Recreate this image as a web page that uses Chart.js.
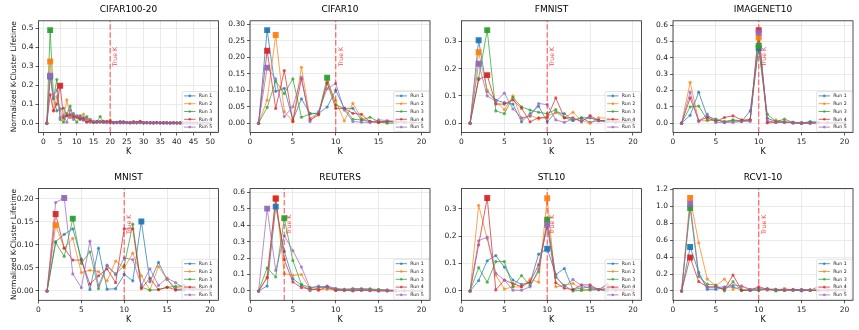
<!DOCTYPE html>
<html>
<head>
<meta charset="utf-8">
<script src="https://cdn.jsdelivr.net/npm/chart.js@4.4.1/dist/chart.umd.min.js"></script>
<style>
  body { margin: 0; background: #fff; width: 859px; height: 330px; position: relative; overflow: hidden; }
  canvas { position: absolute; }
</style>
</head>
<body>
<script>
// K values on the x axis
const K20 = [1, 2, 3, 4, 5, 6, 7, 8, 9, 10, 11, 12, 13, 14, 15, 16, 17, 18, 19, 20];
const K50 = [1, 2, 3, 4, 5, 6, 7, 8, 9, 10, 11, 12, 13, 14, 15, 16, 17, 18, 19, 20,
  21, 22, 23, 24, 25, 26, 27, 28, 29, 30, 31, 32, 33, 34, 35, 36, 37, 38, 39, 40,
  41, 42, 43, 44, 45, 46, 47, 48, 49, 50];

const RUN_LABELS = ["Run 1", "Run 2", "Run 3", "Run 4", "Run 5"];
const TITLES = ["CIFAR100-20", "CIFAR10", "FMNIST", "IMAGENET10", "MNIST", "REUTERS", "STL10", "RCV1-10"];
const TRUE_K = [20, 10, 10, 10, 10, 4, 10, 10];
const Y_STEPS = [0.1, 0.05, 0.1, 0.1, 0.05, 0.1, 0.1, 0.2];

// normalized k-cluster lifetime, one row per run
const cifar100 = [
  [0, 0.245, 0.13, 0.065, 0.075, 0.08, 0.04, 0.03, 0.05, 0.03,
   0.02, 0.03, 0.01, 0.02, 0.005, 0.01, 0.01, 0.005, 0.01, 0.005,
   0.003, 0.005, 0.01, 0.005, 0.003, 0.005, 0.002, 0.005, 0.003, 0.002,
   0.004, 0.003, 0.002, 0.002, 0.003, 0.002, 0.001, 0.002, 0.003, 0.002,
   0.002, 0.001, 0.002, 0.002, 0.001, 0.002, 0.001, 0.001, 0.001, 0.001],
  [0, 0.325, 0.065, 0.14, 0.07, 0.02, 0.123, 0.03, 0.04, 0.03,
   0.02, 0.048, 0.01, 0.02, 0.01, 0.005, 0.01, 0.01, 0.005, 0.018,
   0.005, 0.003, 0.005, 0.003, 0.005, 0.004, 0.003, 0.005, 0.008, 0.003,
   0.002, 0.004, 0.002, 0.003, 0.002, 0.003, 0.002, 0.001, 0.002, 0.002,
   0.001, 0.002, 0.002, 0.001, 0.001, 0.002, 0.001, 0.001, 0.001, 0.001],
  [0, 0.49, 0.13, 0.23, 0.02, 0.005, 0.05, 0.09, 0.03, 0.005,
   0.04, 0.02, 0.035, 0.01, 0.005, 0.005, 0.035, 0.005, 0.01, 0.003,
   0.002, 0.005, 0.003, 0.008, 0.003, 0.002, 0.004, 0.002, 0.005, 0.002,
   0.003, 0.002, 0.002, 0.003, 0.001, 0.002, 0.002, 0.001, 0.002, 0.001,
   0.002, 0.001, 0.001, 0.002, 0.001, 0.001, 0.001, 0.001, 0.001, 0.001],
  [0, 0.15, 0.065, 0.1, 0.197, 0.03, 0.04, 0.045, 0.035, 0.035,
   0.025, 0.02, 0.005, 0.01, 0.005, 0.008, 0.005, 0.01, 0.005, 0.01,
   0.003, 0.005, 0.002, 0.005, 0.003, 0.002, 0.008, 0.003, 0.01, 0.002,
   0.003, 0.002, 0.002, 0.004, 0.002, 0.002, 0.003, 0.002, 0.002, 0.001,
   0.002, 0.002, 0.001, 0.001, 0.002, 0.001, 0.001, 0.001, 0.001, 0.001],
  [0, 0.25, 0.14, 0.175, 0.03, 0.04, 0.005, 0.07, 0.02, 0.04,
   0.035, 0.015, 0.025, 0.005, 0.01, 0.005, 0.008, 0.005, 0.003, 0.005,
   0.003, 0.002, 0.004, 0.002, 0.003, 0.002, 0.003, 0.002, 0.002, 0.003,
   0.002, 0.002, 0.001, 0.002, 0.002, 0.001, 0.002, 0.001, 0.002, 0.001,
   0.001, 0.002, 0.001, 0.001, 0.001, 0.001, 0.001, 0.001, 0.001, 0.001]
];

const cifar10 = [
  [0, 0.283, 0.097, 0.106, 0.01, 0.074, 0.03, 0.03, 0.049, 0.1, 0.045, 0.045, 0.01, 0.005, 0.003, 0.005, 0.004, 0.003, 0.002, 0.002],
  [0, 0.07, 0.268, 0.035, 0.005, 0.17, 0.015, 0.03, 0.12, 0.068, 0.007, 0.06, 0.015, 0.005, 0.002, 0.005, 0.003, 0.002, 0.003, 0.002],
  [0, 0.048, 0.128, 0.09, 0.135, 0.018, 0.028, 0.03, 0.138, 0.055, 0.045, 0.012, 0.01, 0.018, 0.005, 0.0, 0.0, 0.002, 0.001, 0.001],
  [0, 0.22, 0.045, 0.16, 0.005, 0.135, 0.01, 0.025, 0.124, 0.045, 0.045, 0.03, 0.027, 0.005, 0.003, 0.005, 0.006, 0.003, 0.002, 0.002],
  [0, 0.169, 0.135, 0.02, 0.05, 0.14, 0.005, 0.035, 0.105, 0.121, 0.04, 0.005, 0.003, 0.002, 0.01, 0.008, 0.005, 0.003, 0.002, 0.002]
];

const fmnist = [
  [0, 0.304, 0.116, 0.085, 0.075, 0.07, 0.005, 0.035, 0.062, 0.005, 0.04, 0.035, 0.01, 0.02, 0.003, 0.01, 0.01, 0.005, 0.004, 0.003],
  [0, 0.26, 0.12, 0.08, 0.05, 0.1, 0.015, 0.03, 0.015, 0.025, 0.04, 0.02, 0.04, 0.01, 0.0, 0.02, 0.018, 0.01, 0.008, 0.005],
  [0, 0.165, 0.341, 0.045, 0.035, 0.095, 0.06, 0.048, 0.04, 0.035, 0.05, 0.02, 0.01, 0.02, 0.02, 0.01, 0.01, 0.005, 0.004, 0.003],
  [0, 0.16, 0.176, 0.07, 0.07, 0.085, 0.055, 0.005, 0.02, 0.02, 0.093, 0.02, 0.02, 0.005, 0.028, 0.01, 0.005, 0.004, 0.003, 0.003],
  [0, 0.218, 0.1, 0.08, 0.11, 0.052, 0.02, 0.025, 0.072, 0.068, 0.012, 0.003, 0.015, 0.01, 0.02, 0.008, 0.005, 0.004, 0.003, 0.002]
];

const imagenet10 = [
  [0, 0.048, 0.19, 0.04, 0.025, 0.005, 0.015, 0.01, 0.075, 0.46, 0.03, 0.01, 0.01, 0.0, 0.0, 0.01, 0.005, 0.003, 0.002, 0.002],
  [0, 0.25, 0.015, 0.015, 0.02, 0.01, 0.015, 0.015, 0.02, 0.525, 0.005, 0.02, 0.01, 0.005, 0.005, 0.0, 0.0, 0.002, 0.002, 0.001],
  [0, 0.1, 0.105, 0.02, 0.02, 0.01, 0.02, 0.015, 0.02, 0.475, 0.055, 0.01, 0.025, 0.005, 0.0, 0.005, 0.005, 0.003, 0.002, 0.002],
  [0, 0.155, 0.015, 0.035, 0.01, 0.035, 0.045, 0.02, 0.02, 0.57, 0.002, 0.005, 0.005, 0.005, 0.0, 0.0, 0.003, 0.002, 0.002, 0.001],
  [0, 0.19, 0.01, 0.055, 0.005, 0.005, 0.005, 0.01, 0.01, 0.555, 0.015, 0.005, 0.005, 0.003, 0.002, 0.0, 0.005, 0.003, 0.002, 0.002]
];

const mnist = [
  [0, 0.107, 0.123, 0.135, 0.07, 0.003, 0.093, 0.004, 0.005, 0.036, 0.022, 0.151, 0.02, 0.062, 0.025, 0.002, 0.002, 0.003, 0.002, 0.002],
  [0, 0.143, 0.093, 0.114, 0.04, 0.045, 0.042, 0.022, 0.065, 0.05, 0.082, 0.033, 0.002, 0.053, 0.025, 0.007, 0.01, 0.005, 0.004, 0.003],
  [0, 0.105, 0.075, 0.157, 0.06, 0.085, 0.005, 0.055, 0.037, 0.055, 0.145, 0.008, 0.002, 0.003, 0.008, 0.01, 0.012, 0.006, 0.004, 0.003],
  [0, 0.167, 0.093, 0.067, 0.067, 0.015, 0.033, 0.048, 0.018, 0.135, 0.135, 0.005, 0.028, 0.003, 0.008, 0.003, 0.005, 0.003, 0.002, 0.002],
  [0, 0.192, 0.202, 0.037, 0.007, 0.108, 0.012, 0.056, 0.035, 0.072, 0.068, 0.012, 0.048, 0.012, 0.028, 0.018, 0.005, 0.004, 0.003, 0.002]
];

const reuters = [
  [0, 0.03, 0.512, 0.24, 0.075, 0.035, 0.002, 0.02, 0.03, 0.015, 0.005, 0.0, 0.005, 0.005, 0.002, 0.002, 0.0, 0.002, 0.001, 0.001],
  [0, 0.085, 0.565, 0.105, 0.095, 0.1, 0.01, 0.01, 0.01, 0.005, 0.005, 0.005, 0.01, 0.015, 0.005, 0.005, 0.0, 0.002, 0.001, 0.001],
  [0, 0.14, 0.085, 0.441, 0.185, 0.04, 0.02, 0.025, 0.02, 0.01, 0.01, 0.015, 0.015, 0.01, 0.01, 0.005, 0.003, 0.002, 0.002, 0.001],
  [0, 0.08, 0.559, 0.19, 0.055, 0.02, 0.015, 0.005, 0.025, 0.003, 0.005, 0.005, 0.005, 0.002, 0.0, 0.0, 0.0, 0.001, 0.001, 0.001],
  [0, 0.5, 0.125, 0.335, 0.245, 0.145, 0.02, 0.03, 0.02, 0.015, 0.01, 0.01, 0.01, 0.005, 0.005, 0.005, 0.005, 0.003, 0.002, 0.002]
];

const stl10 = [
  [0, 0.038, 0.11, 0.129, 0.087, 0.04, 0.024, 0.03, 0.134, 0.154, 0.06, 0.082, 0.005, 0.01, 0.015, 0.005, 0.01, 0.005, 0.004, 0.003],
  [0, 0.312, 0.19, 0.058, 0.007, 0.015, 0.015, 0.043, 0.032, 0.338, 0.015, 0.02, 0.028, 0.005, 0.003, 0.005, 0.02, 0.008, 0.005, 0.004],
  [0, 0.085, 0.032, 0.107, 0.107, 0.016, 0.056, 0.02, 0.07, 0.26, 0.05, 0.02, 0.0, 0.002, 0.005, 0.005, 0.0, 0.003, 0.002, 0.002],
  [0, 0.168, 0.339, 0.004, 0.04, 0.027, 0.016, 0.034, 0.095, 0.24, 0.03, 0.01, 0.005, 0.022, 0.022, 0.005, 0.005, 0.003, 0.003, 0.002],
  [0, 0.183, 0.196, 0.065, 0.04, 0.003, 0.003, 0.015, 0.08, 0.241, 0.055, 0.015, 0.042, 0.02, 0.01, 0.005, 0.025, 0.01, 0.005, 0.004]
];

const rcv1 = [
  [0, 0.518, 0.22, 0.02, 0.02, 0.04, 0.05, 0.01, 0.01, 0.01, 0.02, 0.01, 0.01, 0.01, 0.02, 0.01, 0.01, 0.01, 0.01, 0.01],
  [0, 1.098, 0.568, 0.14, 0.06, 0.14, 0.02, 0.05, 0.02, 0.02, 0.01, 0.01, 0.03, 0.01, 0.01, 0.01, 0.01, 0.01, 0.01, 0.01],
  [0, 0.98, 0.17, 0.08, 0.07, 0.0, 0.11, 0.01, 0.01, 0.01, 0.03, 0.0, 0.01, 0.01, 0.0, 0.01, 0.0, 0.01, 0.01, 0.01],
  [0, 0.396, 0.11, 0.05, 0.05, 0.02, 0.188, 0.01, 0.01, 0.05, 0.02, 0.02, 0.01, 0.02, 0.01, 0.01, 0.01, 0.01, 0.01, 0.01],
  [0, 1.03, 0.2, 0.04, 0.04, 0.05, 0.07, 0.06, 0.02, 0.03, 0.02, 0.02, 0.01, 0.01, 0.01, 0.01, 0.05, 0.02, 0.01, 0.01]
];

const ALL_RUNS = [cifar100, cifar10, fmnist, imagenet10, mnist, reuters, stl10, rcv1];
const K_VALUES = [K50, K20, K20, K20, K20, K20, K20, K20];

// tab10 colours
const RUN_COLORS = ["31,119,180", "255,127,14", "44,160,44", "214,39,40", "148,103,189"];

// layout of the 2x4 grid (plot areas in page pixels)
const PLOT_W = 180;
const PLOT_H = 111.7;
const COL_LEFT = [38.5, 250, 461.5, 673];
const ROW_TOP = [20.8, 188.6];
const TITLE_H = 9 * 1.2 + 5.4;
const X_H = 24.3;
const GRID = "#e6e6e6";

Chart.defaults.font.family = "'DejaVu Sans', sans-serif";

function framePlugin(trueK) {
  return {
    id: "frame",
    afterDatasetsDraw(chart) {
      const { ctx, chartArea: a, scales } = chart;
      // True K label next to the dashed line
      const x = scales.x.getPixelForValue(trueK) + 5.5;
      const y = scales.y.getPixelForValue(scales.y.min + 0.68 * (scales.y.max - scales.y.min));
      ctx.save();
      ctx.translate(x, y);
      ctx.rotate(-Math.PI / 2);
      ctx.font = "6.2px 'DejaVu Sans'";
      ctx.fillStyle = "rgba(255,0,0,0.75)";
      ctx.textAlign = "center";
      ctx.textBaseline = "middle";
      ctx.fillText("True K", 0, 0);
      ctx.restore();

      ctx.save();
      ctx.strokeStyle = "#222";
      ctx.lineWidth = 0.8;
      ctx.strokeRect(a.left, a.top, a.width, a.height);
      ctx.restore();
    },
  };
}

const legendPlugin = {
  id: "runLegend",
  afterDraw(chart) {
    const { ctx, chartArea: a } = chart;
    const w = 35.4, h = 40;
    const x0 = a.right - 1 - w, y0 = a.bottom - 1 - h;
    ctx.save();
    ctx.beginPath();
    ctx.roundRect(x0, y0, w, h, 1.5);
    ctx.fillStyle = "rgba(255,255,255,0.8)";
    ctx.fill();
    ctx.strokeStyle = "#d0d0d0";
    ctx.lineWidth = 0.6;
    ctx.stroke();
    RUN_LABELS.forEach((label, i) => {
      const y = y0 + 4.4 + i * 7.8;
      const c = RUN_COLORS[i];
      ctx.strokeStyle = `rgba(${c},0.75)`;
      ctx.lineWidth = 1;
      ctx.beginPath();
      ctx.moveTo(x0 + 2, y);
      ctx.lineTo(x0 + 13.4, y);
      ctx.stroke();
      ctx.fillStyle = `rgba(${c},0.75)`;
      ctx.beginPath();
      ctx.arc(x0 + 7.7, y, 1.3, 0, Math.PI * 2);
      ctx.fill();
      ctx.fillStyle = "#222";
      ctx.font = "4.7px 'DejaVu Sans'";
      ctx.textBaseline = "middle";
      ctx.fillText(label, x0 + 16.7, y);
    });
    ctx.restore();
  },
};

ALL_RUNS.forEach((runs, idx) => {
  const row = Math.floor(idx / 4);
  const col = idx % 4;
  const ks = K_VALUES[idx];

  const yw0 = col === 0 ? 38.5 : 30;
  const left = Math.floor(COL_LEFT[col] - yw0);
  const yW = COL_LEFT[col] - left;
  const top = Math.floor(ROW_TOP[row] - TITLE_H - 2);
  const padTop = ROW_TOP[row] - TITLE_H - top;
  const width = Math.ceil(yW + PLOT_W + 6);
  const padRight = width - yW - PLOT_W;
  const height = Math.ceil(padTop + TITLE_H + PLOT_H + X_H + 1);
  const padBottom = height - padTop - TITLE_H - PLOT_H - X_H;

  const canvas = document.createElement("canvas");
  canvas.width = width;
  canvas.height = height;
  canvas.style.left = left + "px";
  canvas.style.top = top + "px";
  document.body.appendChild(canvas);

  const yMaxData = Math.max(...runs.map((r) => Math.max(...r)));
  const yMin = -0.1 * yMaxData;
  const yMax = 1.1 * yMaxData;
  const xPad = 0.05 * ks.length;
  const xMin = ks[0] - xPad;
  const xMax = ks[ks.length - 1] + xPad;
  const step = Y_STEPS[idx];
  const decimals = step < 0.1 ? 2 : 1;

  const datasets = [];
  runs.forEach((vals, ri) => {
    const c = RUN_COLORS[ri];
    datasets.push({
      label: RUN_LABELS[ri],
      data: ks.map((k, i) => ({ x: k, y: vals[i] })),
      borderColor: `rgba(${c},0.72)`,
      backgroundColor: `rgba(${c},0.72)`,
      borderWidth: 1,
      pointRadius: 1.6,
      pointBorderWidth: 0,
      tension: 0,
      order: 20 - ri,
    });
  });
  datasets.push({
    label: "True K",
    data: [{ x: TRUE_K[idx], y: yMin }, { x: TRUE_K[idx], y: yMax }],
    borderColor: "rgba(255,0,0,0.5)",
    borderWidth: 1.4,
    borderDash: [5.5, 2.4],
    pointRadius: 0,
    order: 10,
  });
  runs.forEach((vals, ri) => {
    const c = RUN_COLORS[ri];
    const peak = vals.indexOf(Math.max(...vals));
    datasets.push({
      label: RUN_LABELS[ri] + " max",
      data: [{ x: ks[peak], y: vals[peak] }],
      showLine: false,
      pointStyle: "rect",
      pointRadius: 4.2,
      pointBorderWidth: 0,
      backgroundColor: `rgba(${c},0.92)`,
      borderColor: `rgba(${c},0.92)`,
      order: 5 - ri,
    });
  });

  new Chart(canvas, {
    type: "line",
    data: { datasets },
    options: {
      responsive: false,
      animation: false,
      events: [],
      layout: {
        autoPadding: false,
        padding: { left: 0, top: padTop, right: padRight, bottom: padBottom },
      },
      plugins: {
        legend: { display: false },
        tooltip: { enabled: false },
        title: {
          display: true,
          text: TITLES[idx],
          fullSize: false,
          color: "#000",
          font: { size: 9, weight: "normal" },
          padding: { top: 0, bottom: 5.4 },
        },
      },
      scales: {
        x: {
          type: "linear",
          min: xMin,
          max: xMax,
          afterFit: (s) => { s.height = X_H; },
          border: { display: false },
          grid: { color: GRID, lineWidth: 0.8, tickLength: 3, tickColor: "#333", tickWidth: 0.8 },
          ticks: {
            stepSize: 5,
            includeBounds: false,
            autoSkip: false,
            maxRotation: 0,
            color: "#222",
            padding: 1.8,
            font: { size: 7.5 },
          },
          title: { display: true, text: "K", color: "#111", font: { size: 8 }, padding: 0 },
        },
        y: {
          type: "linear",
          min: yMin,
          max: yMax,
          afterFit: (s) => { s.width = yW; },
          border: { display: false },
          grid: { color: GRID, lineWidth: 0.8, tickLength: 3, tickColor: "#333", tickWidth: 0.8 },
          ticks: {
            stepSize: step,
            includeBounds: false,
            color: "#222",
            padding: 2,
            font: { size: 7.5 },
            callback: (v) => Number(v).toFixed(decimals),
          },
          title: {
            display: col === 0,
            text: "Normalized K-Cluster Lifetime",
            color: "#111",
            font: { size: 7.5 },
            padding: { top: 9.5, bottom: 0 },
          },
        },
      },
    },
    plugins: [framePlugin(TRUE_K[idx]), legendPlugin],
  });
});
</script>
</body>
</html>
